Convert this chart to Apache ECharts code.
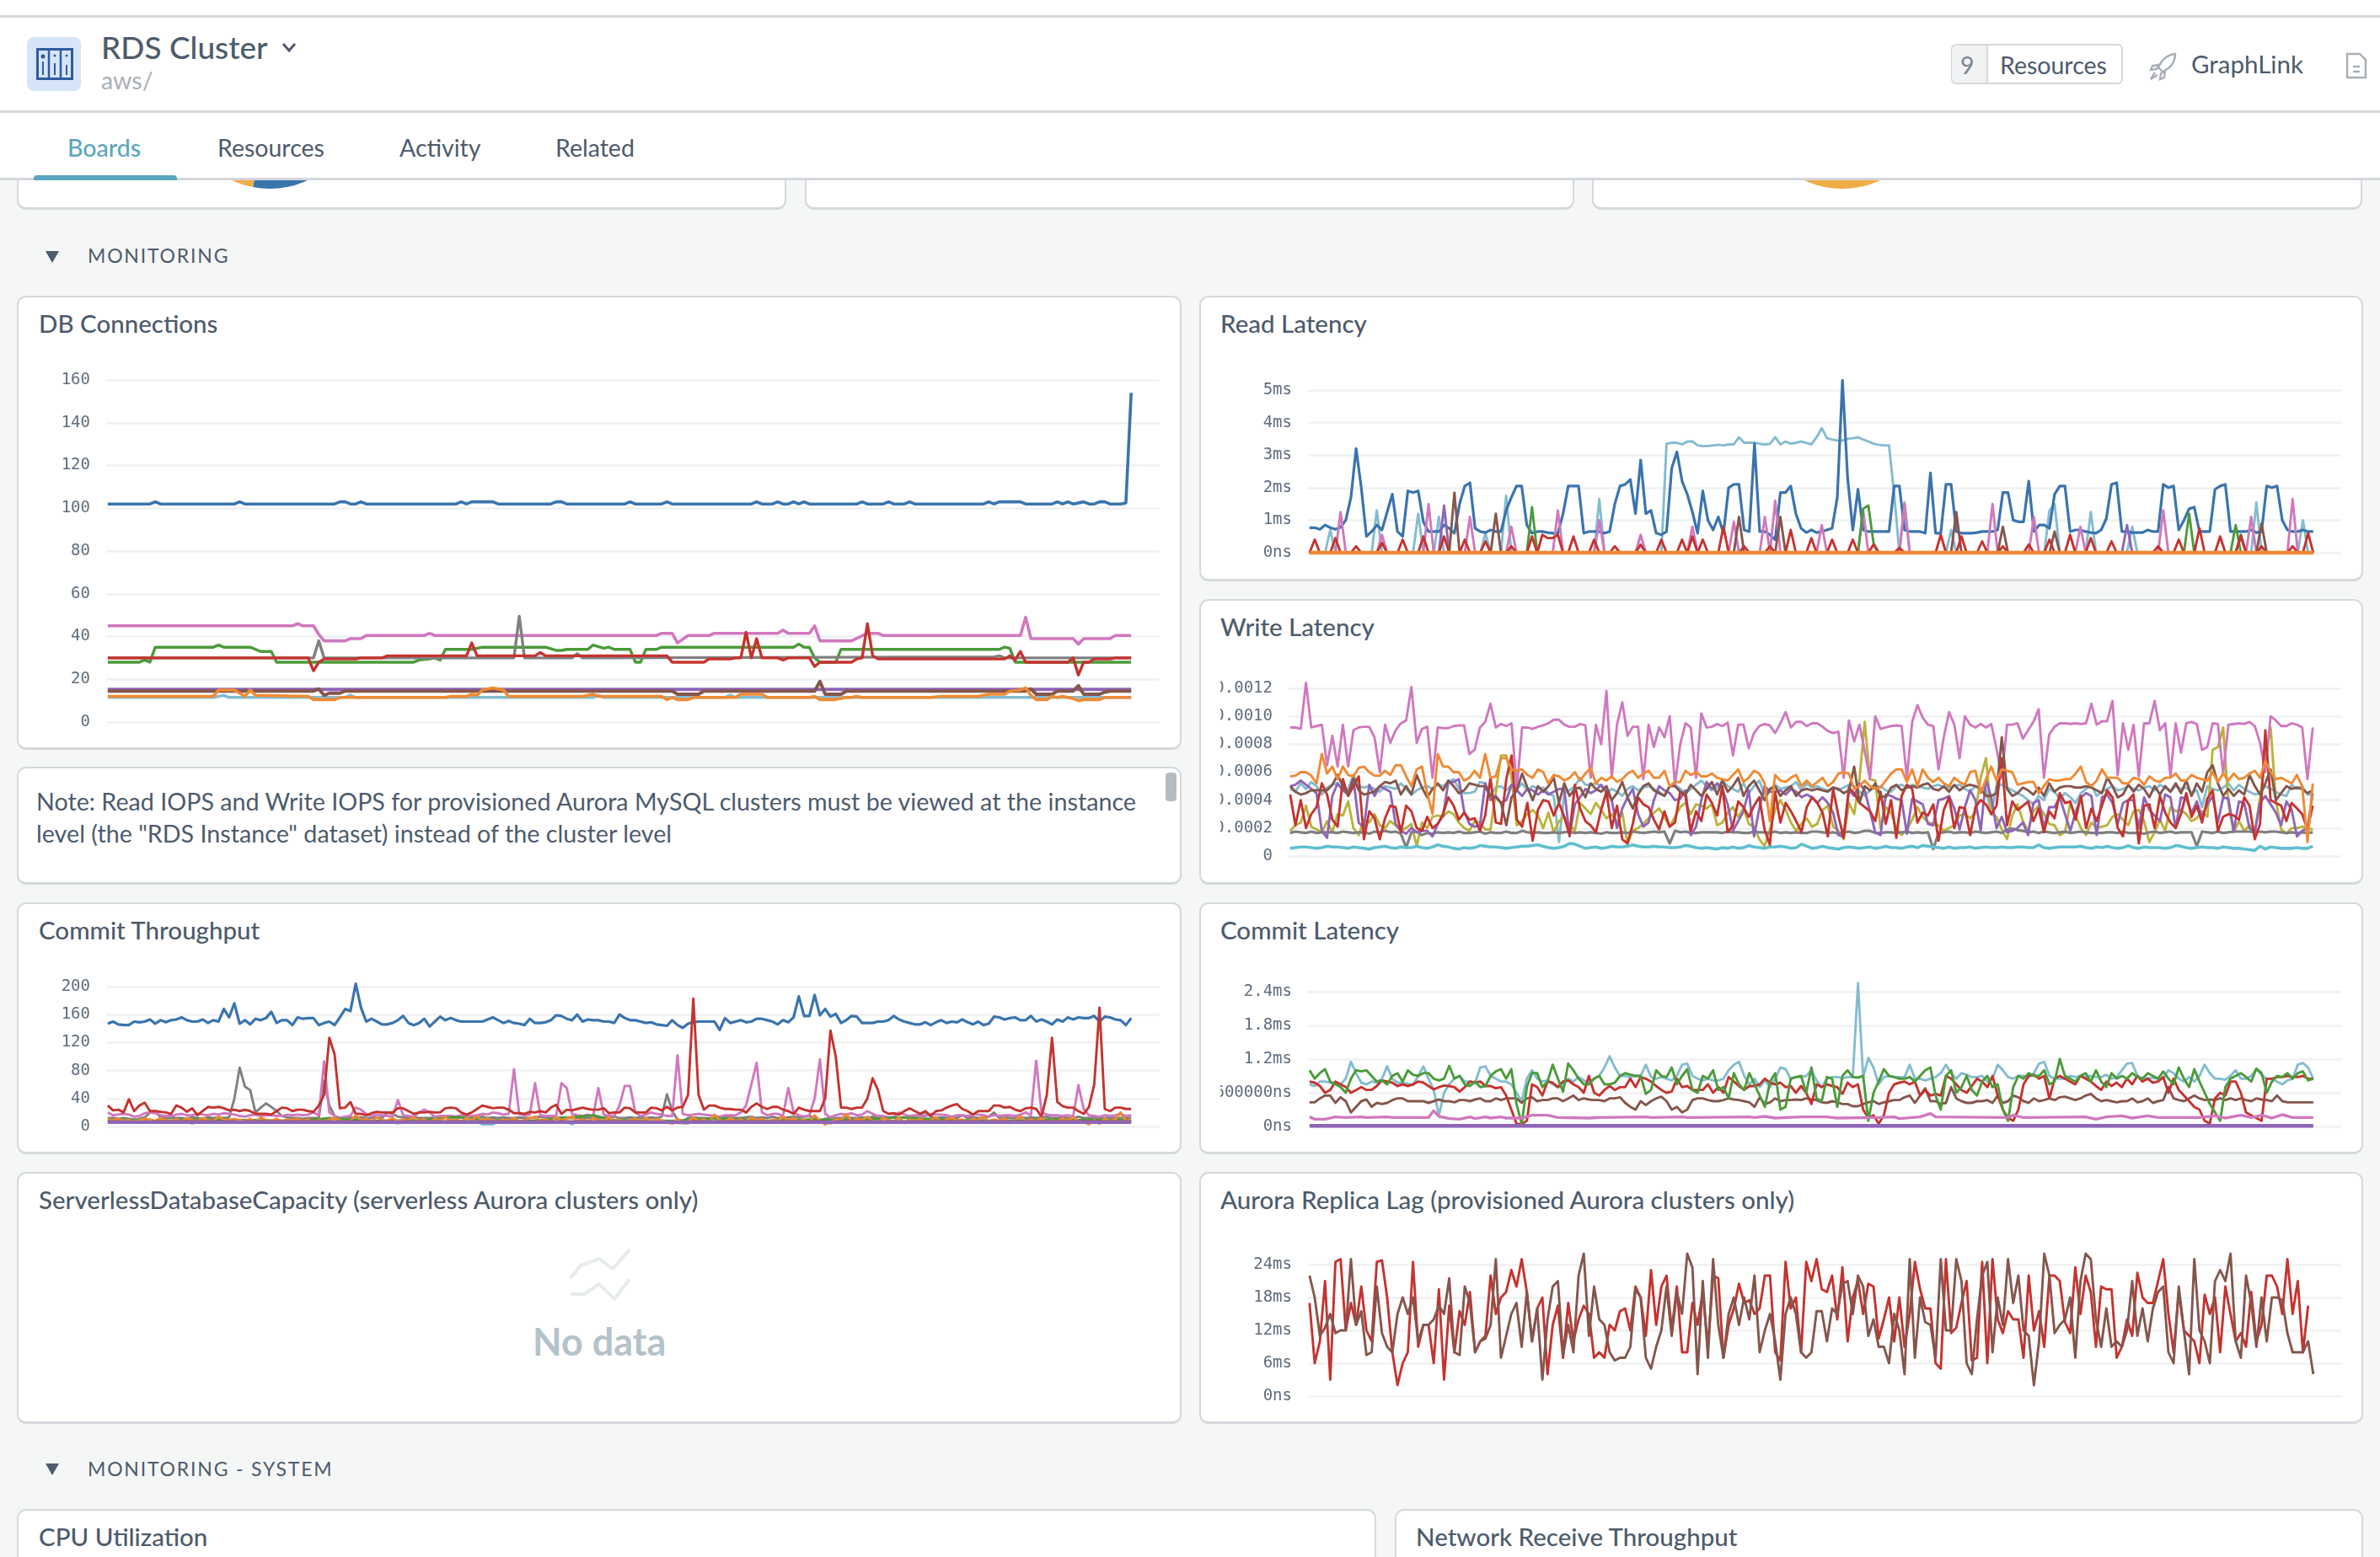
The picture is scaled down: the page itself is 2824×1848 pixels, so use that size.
<!DOCTYPE html>
<html>
<head>
<meta charset="utf-8">
<title>RDS Cluster</title>
<script src="https://cdn.jsdelivr.net/npm/echarts@6/dist/echarts.min.js"></script>
<style>
html,body{margin:0;padding:0;background:#f5f7f7;width:2824px;height:1848px;overflow:hidden;font-family:Lato,"Noto Sans",sans-serif;color:#4d5b6c}
div,span{position:absolute;white-space:nowrap}
.card{background:#fff;border:2px solid #d5d8dc;border-bottom-width:3px;border-radius:11px;box-sizing:border-box}
.title{font-size:29.5px;font-weight:500;line-height:34px;color:#4d5b6c}
.sect{font-size:23px;letter-spacing:1.8px;line-height:30px;color:#4d5b6c}
.tri{width:0;height:0;border-left:8px solid transparent;border-right:8px solid transparent;border-top:14px solid #4d5b6c}
.tab{font-size:28.5px;line-height:34px;top:158px;color:#4d5b6c}
.bar{background:#fff;left:0;width:2824px}
.line{background:#d3d6db;left:0;width:2824px;height:3px}
</style>
</head>
<body>
<div class="card" style="left:20px;top:-40px;width:913px;height:289px"></div>
<div class="card" style="left:955px;top:-40px;width:913px;height:289px"></div>
<div class="card" style="left:1889px;top:-40px;width:914px;height:289px"></div>
<div id="pieLeft" style="left:150px;top:0;width:340px;height:230px"></div>
<div id="pieRight" style="left:2016px;top:0;width:340px;height:230px"></div>

<div class="bar" style="top:0;height:213px"></div>
<div class="line" style="top:18px"></div>
<div class="line" style="top:131px"></div>
<div class="line" style="top:211px"></div>

<div style="left:32px;top:44px;width:64px;height:64px;border-radius:8px;background:#d6e5f8"></div>
<svg style="position:absolute;left:43px;top:57px" width="44" height="38" viewBox="0 0 44 38">
  <rect x="1.5" y="1.5" width="41" height="35" fill="none" stroke="#2f5c9e" stroke-width="3"/>
  <path d="M15 2V36M29 2V36" stroke="#2f5c9e" stroke-width="2.5"/>
  <path d="M8 16V32M22 18V32M36 20V32" stroke="#2f5c9e" stroke-width="2"/>
  <circle cx="8" cy="10" r="2.5" fill="#2f5c9e"/><circle cx="22" cy="9" r="1.5" fill="#2f5c9e"/><circle cx="36" cy="9" r="1.5" fill="#2f5c9e"/>
</svg>
<span style="left:120px;top:34px;font-size:37px;line-height:44px;font-weight:500;color:#4d5b6c">RDS Cluster</span>
<svg style="position:absolute;left:333px;top:49px" width="20" height="14" viewBox="0 0 20 14"><path d="M3 3L10 11L17 3" fill="none" stroke="#4d5b6c" stroke-width="3"/></svg>
<span style="left:120px;top:79px;font-size:28.5px;line-height:32px;color:#a9afb9">aws/</span>

<span class="tab" style="left:80px;color:#5ca5bf;font-weight:500">Boards</span>
<span class="tab" style="left:258px">Resources</span>
<span class="tab" style="left:474px">Activity</span>
<span class="tab" style="left:659px">Related</span>
<div style="left:40px;top:208px;width:170px;height:6px;background:#5ca5bf;border-radius:4px 4px 0 0"></div>

<div style="left:2315px;top:52px;width:204px;height:48px;border:2px solid #d5d8dc;border-radius:6px;box-sizing:border-box;background:#fff"></div>
<div style="left:2316px;top:54px;width:41px;height:44px;background:#f1f2f4;border-right:2px solid #d5d8dc;border-radius:5px 0 0 5px"></div>
<span style="left:2326px;top:60px;font-size:28.5px;line-height:34px;color:#7b8591">9</span>
<span style="left:2373px;top:60px;font-size:28.5px;line-height:34px">Resources</span>
<svg style="position:absolute;left:2550px;top:62px" width="34" height="34" viewBox="0 0 34 34"><path d="M31 2C22 3 15 9 11 18L16 23C25 19 31 12 31 2ZM11 15L4 16L2 21L9 20ZM19 23L18 30L13 32L14 25ZM7 24L2 32L10 27" fill="none" stroke="#a9afb9" stroke-width="2.4"/></svg>
<span style="left:2600px;top:59px;font-size:29.5px;line-height:34px">GraphLink</span>
<svg style="position:absolute;left:2783px;top:62px" width="26" height="32" viewBox="0 0 26 32"><path d="M2 2H17L24 9V30H2ZM9 17H17M9 23H17" fill="none" stroke="#a9afb9" stroke-width="2.4"/></svg>

<div class="tri" style="left:54px;top:298px"></div>
<span class="sect" style="left:104px;top:288px">MONITORING</span>

<div class="card" style="left:20px;top:351px;width:1382px;height:539px"></div>
<span class="title" style="left:46px;top:367px">DB Connections</span>
<div class="card" style="left:1423px;top:351px;width:1381px;height:339px"></div>
<span class="title" style="left:1448px;top:367px">Read Latency</span>
<div class="card" style="left:1423px;top:711px;width:1381px;height:339px"></div>
<span class="title" style="left:1448px;top:727px">Write Latency</span>

<div class="card" style="left:20px;top:910px;width:1382px;height:140px"></div>
<span style="left:43px;top:932px;font-size:28.7px;line-height:38px;color:#4d5b6c">Note: Read IOPS and Write IOPS for provisioned Aurora MySQL clusters must be viewed at the instance<br>level (the "RDS Instance" dataset) instead of the cluster level</span>
<div style="left:1383px;top:917px;width:13px;height:34px;border-radius:4px;background:#b4bbc3"></div>

<div class="card" style="left:20px;top:1071px;width:1382px;height:299px"></div>
<span class="title" style="left:46px;top:1087px">Commit Throughput</span>
<div class="card" style="left:1423px;top:1071px;width:1381px;height:299px"></div>
<span class="title" style="left:1448px;top:1087px">Commit Latency</span>

<div class="card" style="left:20px;top:1391px;width:1382px;height:299px"></div>
<span class="title" style="left:46px;top:1407px">ServerlessDatabaseCapacity (serverless Aurora clusters only)</span>
<svg style="position:absolute;left:675px;top:1482px" width="74" height="62" viewBox="0 0 74 62"><path d="M2 35L14 20L36 12L52 24L72 1M2 54L18 54L36 42L54 60L72 36" fill="none" stroke="#e6ebec" stroke-width="4"/></svg>
<span style="left:632px;top:1564px;font-size:45px;line-height:56px;font-weight:700;color:#b3c3c9">No data</span>
<div class="card" style="left:1423px;top:1391px;width:1381px;height:299px"></div>
<span class="title" style="left:1448px;top:1407px">Aurora Replica Lag (provisioned Aurora clusters only)</span>

<div class="tri" style="left:54px;top:1737px"></div>
<span class="sect" style="left:104px;top:1728px">MONITORING - SYSTEM</span>
<div class="card" style="left:20px;top:1791px;width:1613px;height:120px"></div>
<span class="title" style="left:46px;top:1807px">CPU Utilization</span>
<div class="card" style="left:1655px;top:1791px;width:1149px;height:120px"></div>
<span class="title" style="left:1680px;top:1807px">Network Receive Throughput</span>

<script>
// colours of the instances, same order on all boards
var blue='#3a74ad',teal='#84bccf',pink='#d078be',green='#4b9b3a',gray='#808080',
    purple='#8f65b8',brown='#85564c',olive='#bab33b',cyan='#5fbfd0',red='#c5332f',orange='#ef8a33';

var pieLeftValues=[53,47];
var pieRightValues=[100];

var dbTicks=['0','20','40','60','80','100','120','140','160'];
var readTicks=['0ns','1ms','2ms','3ms','4ms','5ms'];
var writeTicks=['0','0.0002','0.0004','0.0006','0.0008','0.0010','0.0012'];
var commitTicks=['0','40','80','120','160','200'];
var commitLatTicks=['0ns','600000ns','1.2ms','1.8ms','2.4ms'];
var lagTicks=['0ns','6ms','12ms','18ms','24ms'];

// DB Connections, [sample, connections] at each change of value
var dbBlue=[[0,102],[8,102],[9,103],[10,102],[24,102],[25,103],[26,102],[43,102],[44,103],[45,103],[46,102],[47,102],[48,103],[49,102],[66,102],[67,103],[68,102],[69,103],[73,103],[74,102],[84,102],[85,103],[86,103],[87,102],[98,102],[99,103],[100,102],[105,102],[106,103],[107,102],[122,102],[123,103],[124,102],[126,102],[127,103],[128,102],[129,102],[130,103],[131,102],[132,103],[133,102],[142,102],[143,103],[144,102],[147,102],[148,103],[149,102],[151,102],[152,103],[153,102],[166,102],[167,103],[168,102],[169,103],[173,103],[174,102],[179,102],[180,103],[181,102],[182,103],[183,102],[185,103],[186,102],[187,102],[188,103],[189,103],[190,102],[192,102],[193,102.5],[194,154]];
var dbTeal=[[0,11.5],[20,11.5],[22,12.5],[23,11.5],[45,11.5],[46,12.5],[47,11.5],[92,11.5],[93,12.5],[94,11.5],[117,11.5],[118,12.5],[119,11.5],[194,11.5]];
var dbPink=[[0,45],[35,45],[36,46],[37,45],[39,45],[40,41],[41,38],[45,38],[46,39],[48,39],[49,40.5],[60,40.5],[61,41.5],[62,40.5],[104,40.5],[105,41.5],[107,41.5],[108,37],[110,40.5],[114,40.5],[115,41.5],[127,41.5],[128,43],[129,41.5],[133,41.5],[134,45],[135,38],[141,38],[144,41.5],[146,41.5],[147,40.5],[173,40.5],[174,49],[175,39],[183,39],[184,36.5],[185,39],[190,39],[191,40.5],[194,40.5]];
var dbGreen=[[0,28],[6,28],[7,29],[8,28],[9,35],[20,35],[21,36],[22,35],[27,35],[29,33],[31,33],[32,28],[58,28],[59,29],[61,29.5],[62,30],[63,29],[64,34],[69,34],[71,35],[83,35],[85,33.5],[86,33.5],[87,34],[91,34],[92,36],[94,34.5],[95,35],[96,34],[99,34],[100,28],[101,28],[102,34],[104,34],[105,35],[130,35],[131,36.5],[132,35],[133,35],[134,30],[135,28],[138,28],[139,34],[169,34],[170,35],[171,34.5],[172,28],[194,28]];
var dbGray=[[0,30],[39,30],[40,38],[41,30],[77,30],[78,49.5],[79,30],[88,30],[89,32],[90,30],[168,30.5],[169,31],[170,30],[194,30]];
var dbPurple=[[0,15.3],[194,15.3]];
var dbBrown=[[0,14.5],[39,14.5],[40,15.5],[41,12.5],[42,13.5],[44,13.5],[45,14.5],[107,14.5],[108,13],[112,13],[113,14.5],[134,14.5],[135,19],[136,13],[139,13],[140,14.5],[174,14.5],[175,15.5],[176,13],[179,13],[180,14.5],[183,14.5],[184,17],[185,13],[188,13],[189,14],[190,14.5],[194,14.5]];
var dbOrange=[[0,12],[20,12],[21,15],[24,15],[26,12],[27,15],[28,12.5],[38,12],[39,10.5],[43,10.5],[44,11.5],[64,11.5],[65,12],[68,12],[69,13],[70,12.5],[71,15],[73,16],[75,15],[76,12],[90,12],[92,13],[93,12],[105,12],[106,10.5],[107,11.5],[108,10.5],[110,10.5],[111,11.5],[119,11.5],[120,13],[124,13],[125,11.5],[133,11.5],[134,12],[135,10.5],[138,10.5],[140,11.5],[141,11.5],[142,12],[143,11.5],[156,11.5],[158,12],[165,12],[167,13],[170,13],[171,14.5],[173,15],[174,16],[175,12.5],[176,10.5],[178,10.5],[179,12],[180,11.5],[181,12],[183,11],[184,10],[185,10.5],[188,10.5],[189,11.5],[194,11.5]];
var dbRed=[[0,30],[38,30],[39,24],[40,28],[41,29.5],[47,29.5],[48,30],[52,30],[53,31],[68,31],[69,37],[70,31],[81,31],[82,32.5],[83,31],[106,31],[107,28],[113,28],[114,29.5],[118,29.5],[119,30],[120,30],[121,42],[122,30],[123,39],[124,30],[127,30],[128,29],[129,30],[133,30],[134,26],[135,28],[141,28],[142,29.5],[143,30],[144,46],[145,31],[146,29.5],[170,29.5],[171,31],[172,29],[173,33],[174,28],[182,28],[183,30],[184,22],[185,28],[186,28],[187,29.5],[190,29.5],[191,30],[194,30]];

// Read Latency in ms, samples that leave the zero line
var readBlue=[.77,.77,.72,.85,.77,.72,.78,1.0,1.7,3.2,2.0,.5,.65,.85,.7,1.25,1.8,.65,.5,1.9,
1.85,1.9,.95,.65,.65,.65,.85,.75,.6,1.5,2.05,2.15,.75,.65,.62,.7,.65,.65,1.3,1.7,
2.05,2.05,.85,.6,.65,.65,.62,.6,.6,1.2,2.05,2.05,2.05,.6,.65,.65,.65,.6,.65,1.5,
2.05,2.1,2.25,1.2,2.85,1.2,1.3,.6,.55,.65,2.6,3.1,2.2,1.8,1.25,.6,1.9,1.0,.7,1.1,
.6,2.0,2.1,2.1,.7,.65,3.35,.65,.65,.55,.4,1.85,1.85,2.05,1.2,.75,.62,.7,.62,.65,
.7,.75,1.7,5.3,2.3,.7,1.95,.7,.65,.65,.65,.65,.65,2.05,2.05,.7,.65,.65,.65,.6,
2.45,.6,.6,2.1,2.1,.65,.6,.6,.6,.62,.65,.65,.65,.7,1.85,1.85,1.0,.95,.95,2.2,
.65,.85,.85,.75,1.8,2.05,2.05,.65,.7,.7,.65,.62,.6,.7,1.05,2.1,2.15,.65,.65,.62,
.62,.62,.7,.65,.65,2.1,2.0,2.05,.7,1.0,1.35,1.4,.65,.65,.65,1.95,2.05,2.1,.65,.65,
.65,.65,.7,.62,.65,2.05,2.0,2.05,1.0,.7,.65,.65,.7,.65,.65];
var readTeal=[[4,.7],[13,1.3],[21,1.2],[25,1.1],[34,.6],[38,1.75],[56,1.65],
[69,3.35],[70,3.38],[71,3.38],[72,3.33],[73,3.42],[74,3.42],[75,3.3],[76,3.28],[77,3.28],[78,3.3],[79,3.32],[80,3.3],[81,3.33],[82,3.33],[83,3.55],[84,3.38],[85,3.38],[86,3.38],[87,3.35],[88,3.33],[89,3.35],[90,3.55],[91,3.33],[92,3.42],[93,3.35],[94,3.38],[95,3.42],[96,3.38],[97,3.33],[98,3.55],[99,3.83],[100,3.52],[101,3.48],[102,3.45],[103,3.45],[104,3.5],[105,3.52],[106,3.55],[107,3.48],[108,3.42],[109,3.35],[110,3.32],[111,3.3],[112,3.3],[113,1.8],
[115,1.55],[124,.7],[143,1.3],[144,1.5],[151,1.25],[159,.8],[183,1.55],[192,1.0]];
var readPink=[[6,1.25],[14,.55],[23,1.5],[31,1.1],[39,.8],[48,1.3],[56,1.0],[64,.55],[74,.8],[82,.95],[88,1.1],[90,1.6],[99,.85],[107,1.3],[115,1.5],[132,1.5],[140,1.1],[149,.8],[165,1.3],[182,1.1],[190,1.65]];
var readGreen=[[43,1.4],[107,1.35],[108,1.45],[109,.3],[170,1.2],[179,.85]];
var readPurple=[[26,1.45],[158,.85]];
var readBrown=[[28,1.85],[36,1.2],[83,1.1],[91,1.1],[125,1.25],[134,.8],[144,.65],[180,.55],[184,.9]];
var readRed=[[1,.4],[5,.45],[9,.2],[14,.3],[18,.4],[22,.5],[26,.5],[30,.4],[34,.35],[39,.2],[43,.5],[45,.55],[46,.45],[47,.45],[48,.55],[51,.5],[55,.4],[59,.2],[64,.25],[68,.4],[72,.4],[74,.5],[76,.4],[80,.8],[84,.2],[89,.2],[93,.7],[97,.45],[101,.4],[105,.4],[109,.25],[114,.15],[122,.55],[126,.5],[130,.35],[134,.2],[139,.25],[143,.4],[147,.55],[151,.45],[155,.35],[164,.2],[168,.4],[172,.75],[176,.5],[180,.5],[184,.2],[190,.2],[193,.6]];
var readOrange=[[0,0],[194,0]];

// Write Latency in microseconds
var writePink=[920,920,910,1240,920,930,940,650,860,640,940,640,900,920,925,925,850,600,940,810,
900,950,970,1210,810,910,925,560,920,915,915,930,935,935,730,760,920,960,1090,920,
945,930,950,480,920,920,910,925,935,950,975,975,940,925,925,945,935,560,940,800,
1180,560,940,1100,860,925,925,550,940,780,920,850,1000,510,800,950,920,560,1020,920,
925,945,930,955,720,940,940,770,880,930,945,935,880,950,1030,920,960,960,930,950,
950,925,895,880,890,560,970,820,940,750,550,1000,910,920,930,935,930,560,960,1080,
990,940,930,620,850,1030,940,700,1000,940,920,945,920,945,770,560,940,940,950,840,
900,960,1050,560,870,925,950,950,945,950,945,950,1090,940,965,965,1110,580,950,760,
940,570,950,950,1110,900,950,570,950,740,950,960,945,760,780,950,945,590,940,945,
950,945,960,930,810,600,1000,970,930,930,950,940,920,550,920];
var writeTeal=[480,460,520,480,530,500,440,490,510,520,470,480,580,500,490,500,480,460,500,490,
480,520,480,440,470,490,500,480,510,500,530,550,480,450,450,460,530,520,440,490,
500,470,510,480,520,470,500,480,490,450,430,100,450,470,500,560,510,510,520,500,
450,480,460,430,480,500,470,490,500,480,460,430,500,510,480,450,480,510,540,500,
470,490,540,500,480,460,520,450,500,540,440,470,510,480,490,500,530,470,520,490,
500,480,470,490,470,490,510,500,460,430,470,490,500,470,460,500,510,490,510,500,
490,480,500,510,490,490,500,510,480,460,500,480,480,300,500,510,490,470,450,430,
400,370,430,400,480,460,410,450,420,380,450,480,510,430,460,480,500,470,480,500,
480,470,490,500,470,510,490,460,500,480,490,450,470,350,500,480,470,490,520,470,
510,480,460,440,450,500,480,460,440,430,510,480,500,440,440];
var writeOlive=[180,220,240,360,210,190,170,250,170,300,290,390,200,150,260,240,300,220,200,250,
220,180,200,230,70,240,200,280,290,280,320,300,240,200,180,250,240,190,190,450,
720,720,560,220,250,300,330,290,200,310,170,250,280,230,180,380,340,300,380,330,
270,300,240,310,90,180,200,230,270,310,340,280,210,280,350,380,300,370,360,340,
370,220,240,310,350,280,340,230,210,120,70,190,330,400,330,240,180,230,270,210,
230,330,360,210,180,120,380,300,550,960,550,540,200,350,310,200,150,190,260,350,
280,240,230,220,180,200,220,290,300,270,310,560,700,300,280,190,120,290,370,250,
180,320,360,300,230,220,150,170,380,290,200,150,240,200,210,220,280,300,260,220,
320,330,250,100,170,260,180,350,320,330,300,250,270,320,280,760,780,920,370,170,
250,180,220,170,420,700,920,400,190,160,200,200,210,200,190];
var writeGray=[165,175,170,165,175,165,170,170,170,165,175,170,165,170,170,160,175,170,180,170,
175,160,60,170,175,150,165,160,170,165,170,165,175,165,165,170,175,160,170,165,
165,175,165,165,180,170,165,170,165,165,170,165,170,175,165,170,165,170,165,160,
170,165,165,170,165,175,170,165,170,175,170,175,90,180,170,175,165,165,170,170,
170,170,165,175,170,170,165,165,175,170,170,165,175,165,170,165,170,165,165,175,
175,170,165,170,160,170,175,165,170,180,180,165,165,170,170,165,170,175,165,170,
165,170,50,165,170,175,165,170,170,165,175,170,165,170,175,165,190,195,185,180,
170,175,165,175,170,165,170,175,165,170,175,170,165,165,165,170,170,165,175,165,
165,165,160,170,175,165,170,175,165,170,170,170,70,175,170,165,175,165,170,175,
175,175,175,170,175,170,175,175,170,165,170,165,170,165,170];
var writeCyan=[55,60,65,65,60,55,60,70,65,65,60,55,65,60,55,50,60,65,70,60,
55,65,60,60,70,60,55,65,80,70,65,55,50,60,55,60,75,70,65,65,
60,55,60,65,70,70,75,80,70,60,55,60,70,90,85,70,55,60,65,55,
60,70,65,65,70,80,70,65,65,70,65,65,60,60,65,75,70,60,55,60,
55,50,60,55,65,55,60,75,65,60,55,65,65,70,65,55,60,85,70,55,
60,70,60,55,50,60,65,60,55,60,65,55,60,70,60,60,55,65,70,60,
75,70,65,60,55,65,55,60,60,65,55,60,65,60,60,65,60,60,65,65,
60,60,80,60,55,60,65,65,65,65,70,60,55,65,60,70,60,55,60,75,
60,55,65,60,60,60,55,60,75,70,60,55,60,65,60,60,55,65,60,55,
55,50,45,40,70,50,65,60,55,55,55,60,55,55,70];
var writePurple=[500,510,540,510,480,450,180,130,430,520,470,440,550,240,200,510,430,500,480,460,
230,180,160,200,170,180,180,140,230,290,530,530,550,320,230,210,220,520,400,430,
380,400,510,470,430,480,470,440,470,440,460,480,480,140,370,420,480,450,470,510,
460,400,200,340,420,480,300,210,240,400,500,470,450,400,410,470,150,210,400,530,
480,520,480,370,180,250,320,470,140,340,500,460,460,470,440,480,460,420,440,420,
380,420,380,310,150,140,470,430,520,470,320,170,150,440,430,410,400,160,410,390,
370,230,220,400,410,430,340,190,350,470,400,180,550,420,200,280,170,180,200,240,
150,380,400,200,350,350,420,300,180,310,420,450,430,150,420,440,380,230,380,400,
400,200,420,330,290,250,440,420,200,420,410,310,390,280,370,430,240,420,410,180,
390,380,200,170,380,430,370,310,220,390,330,140,180,200,450];
var writeRed=[440,220,400,200,300,350,520,440,260,210,550,430,500,570,120,320,270,120,270,360,
350,170,360,320,200,180,280,200,230,300,420,360,260,310,260,270,180,290,560,240,
230,550,720,260,210,380,110,330,400,390,290,380,280,150,510,340,250,220,170,330,
460,200,360,120,90,230,420,370,350,260,190,320,210,240,460,430,180,320,250,440,
380,290,500,170,220,390,350,280,360,420,190,80,460,240,380,320,250,170,350,420,
380,310,140,480,290,130,490,450,380,350,320,250,460,230,400,130,430,510,480,240,
310,290,370,110,330,420,200,350,340,150,350,400,370,300,360,700,220,390,330,360,
390,250,340,170,320,270,450,380,390,260,430,200,340,250,360,470,420,200,140,400,
440,90,360,370,200,430,310,240,200,300,450,280,360,240,410,470,180,280,300,290,
260,420,360,120,230,900,400,380,360,250,380,340,300,190,360];
var writeBrown=[500,460,440,450,470,470,470,470,510,580,500,440,560,470,440,450,460,500,530,520,
540,440,500,440,580,490,420,480,520,470,540,500,450,470,520,510,500,500,430,420,
380,220,420,470,590,490,400,500,460,500,560,380,520,430,480,490,420,520,480,460,
500,400,450,530,420,340,440,500,520,470,450,430,500,500,460,440,510,470,430,480,
530,440,540,460,500,560,430,500,540,470,400,480,500,430,470,500,430,470,480,470,
480,470,460,490,480,450,470,640,380,500,470,520,430,420,490,510,470,490,500,490,
510,520,480,470,500,460,510,470,500,510,500,480,430,430,450,850,480,430,450,490,
470,440,490,430,520,460,490,500,500,490,490,500,490,470,450,560,500,420,440,510,
460,510,480,420,500,440,500,460,520,450,540,430,520,460,600,650,520,430,480,430,
470,440,580,500,440,520,620,400,450,500,480,490,480,450,470];
var writeOrange=[570,575,600,600,575,520,730,590,640,550,640,580,570,630,640,600,575,575,610,580,
650,650,570,500,620,640,450,300,730,640,640,600,600,540,560,610,560,730,560,570,
700,700,620,610,620,580,560,620,600,520,580,570,540,560,600,540,590,630,520,560,
540,570,530,550,590,610,560,590,610,560,560,610,500,530,530,610,580,600,570,570,
590,560,550,540,580,620,530,560,610,590,520,250,580,540,530,560,580,500,540,500,
530,560,500,530,590,600,590,480,500,540,500,480,490,540,590,620,620,530,620,500,
620,560,530,560,520,500,560,530,510,600,610,450,550,640,540,620,610,600,510,520,
530,530,450,500,550,540,540,550,550,590,640,530,500,540,620,560,560,560,520,520,
560,550,510,570,540,530,560,560,590,540,540,580,560,550,540,600,530,590,540,590,
550,560,590,610,560,680,600,550,560,540,520,580,500,100,520];

// Commit Throughput
var commitBlue=[147,150,146,145,145,150,149,150,153,147,152,149,152,153,156,152,150,150,153,148,
152,150,168,156,176,147,152,146,154,152,155,164,148,152,152,145,156,154,155,155,
145,148,150,145,156,168,165,204,170,150,154,150,146,146,148,152,158,148,145,148,
154,143,150,157,152,155,152,150,150,150,150,150,153,156,152,148,151,148,147,145,
154,148,148,149,152,159,158,154,152,160,150,153,152,152,150,150,148,160,155,152,
152,150,148,149,146,145,144,152,145,141,147,149,150,150,150,150,138,155,148,150,
152,149,150,154,154,152,150,146,152,149,156,186,158,158,188,159,168,157,161,148,
152,158,157,148,148,148,150,150,152,158,153,150,148,146,146,149,145,149,152,148,
150,149,153,149,146,150,145,147,157,156,153,155,156,152,152,158,150,153,150,146,
153,150,156,153,156,155,155,158,150,157,156,153,152,145,155];
var commitPink=[20,16,17,18,17,14,15,19,20,19,16,15,15,17,18,16,16,18,17,16,
18,17,19,18,17,15,14,16,17,15,16,16,15,15,17,16,17,16,17,20,
16,93,20,15,12,14,15,27,24,18,15,17,16,15,14,38,16,15,14,20,
24,20,14,15,15,15,14,16,16,15,16,18,17,20,19,17,18,82,18,16,
17,62,16,15,15,15,62,55,18,16,15,17,14,55,17,15,15,30,58,58,
20,15,17,20,18,17,15,15,102,18,16,17,18,17,16,15,14,16,16,16,
20,30,60,91,20,16,18,18,15,55,20,16,14,16,40,96,18,13,16,18,
17,19,16,17,22,18,15,15,13,14,20,17,15,16,15,15,18,17,17,16,
14,16,16,15,17,17,16,14,16,15,16,16,15,17,20,16,94,20,17,16,
16,15,16,14,59,25,16,15,14,16,15,16,18,15,16];
var commitGray=[12,12,11,12,11,10,11,13,20,22,13,12,13,12,12,11,13,12,11,13,
12,13,12,13,40,84,57,52,20,27,33,28,22,15,13,12,12,11,12,12,
12,65,30,15,12,14,12,13,13,12,12,13,12,20,18,14,13,12,14,12,
12,12,13,12,13,12,12,13,12,12,13,14,12,13,12,13,12,12,13,12,
12,13,14,13,12,12,13,12,12,13,12,12,13,12,12,13,14,12,12,13,
12,13,12,13,12,14,46,22,10,8,12,13,12,12,11,12,12,14,13,12,
12,13,14,12,13,12,14,12,12,13,14,13,14,15,12,8,11,12,12,12,
13,12,12,13,12,14,13,12,12,14,12,13,12,14,18,20,14,12,13,12,
14,12,16,12,13,12,12,14,20,12,13,12,12,13,12,13,12,13,14,12,
12,13,12,12,14,12,12,13,12,12,13,12,12,13,12];
var commitRed=[30,23,24,20,39,22,30,34,22,22,21,20,18,30,27,21,26,16,22,28,
27,28,26,23,24,22,24,22,18,18,18,17,22,27,26,22,24,24,22,21,
30,45,127,103,26,27,35,18,18,16,19,21,20,20,20,26,26,22,18,20,
20,21,20,20,26,27,26,20,17,20,25,30,28,26,27,27,24,19,19,18,
21,20,22,20,27,31,18,24,23,25,27,25,24,24,26,19,20,20,27,26,
20,20,20,27,26,23,28,23,27,28,45,183,45,24,30,30,27,25,25,24,
24,20,28,33,28,25,28,28,24,22,18,27,24,22,22,22,40,137,100,27,
27,25,27,27,40,69,52,22,18,19,17,22,26,22,18,22,15,22,23,27,
30,32,25,22,17,22,22,22,30,30,27,28,24,22,26,27,25,14,45,127,
35,29,27,27,22,18,28,60,170,25,22,27,27,25,25];
var commitOrange=[10,9,11,8,9,7,9,11,10,8,12,9,8,10,7,12,9,8,12,9,
8,14,10,9,11,9,8,11,6,13,9,8,11,7,10,9,11,8,10,6,
9,7,10,12,9,6,8,16,9,11,7,13,9,8,12,7,10,9,13,8,
10,6,11,9,13,8,10,7,12,9,15,8,11,9,7,10,8,12,7,9,
12,14,8,10,7,13,9,11,14,8,10,7,12,9,8,13,7,10,6,9,
11,7,12,8,10,9,6,4,11,5,7,13,8,10,6,17,9,7,12,8,
10,7,13,9,11,6,10,8,14,9,12,7,10,6,16,8,3,6,10,9,
18,7,11,9,14,8,6,12,9,7,13,5,10,8,11,7,9,13,6,10,
12,8,10,6,11,9,14,7,10,8,12,5,9,15,7,10,8,12,6,9,
7,11,9,13,8,6,3,9,4,11,8,10,20,8,10];
var commitGreen=[[0,9],[9,8],[18,10],[27,9],[37,8],[42,12],[50,8],[60,9],[66,14],[72,9],[80,8],[92,16],[96,9],[108,8],[115,12],[124,8],[133,10],[141,9],[150,13],[160,9],[170,8],[178,10],[186,9],[194,9]];
var commitTeal=[[0,7],[15,7],[16,4],[17,7],[70,7],[71,3],[73,3],[74,7],[87,7],[88,3],[89,7],[114,7],[115,12],[116,7],[194,7]];
var commitPurple=[[0,6],[194,6]];
var commitBrown=[[0,7],[8,6],[9,7],[24,7],[25,6],[26,7],[54,7],[55,5],[56,7],[100,7],[110,5],[111,7],[136,7],[137,5],[138,7],[194,7]];

// Commit Latency in ms
var latTeal=[.75,.72,.8,.8,.78,.76,.75,.85,1.15,.95,.78,.75,.8,.78,.85,1.07,.85,.78,.78,.76,
.74,.9,1.07,.85,.65,.2,.6,.75,.85,.9,.8,.8,.78,1.05,1.07,.9,.85,.8,.8,.75,
.6,.45,.85,1.0,.85,.8,.82,.75,.7,.72,.85,.8,.88,.82,.78,.85,.9,1.05,1.25,1.05,
.9,.9,.88,.9,.9,1.1,.88,.85,.88,.85,.82,.9,1.1,1.12,.9,.85,.82,.85,.82,.82,
.85,1.0,1.1,1.15,.9,.75,.85,.7,.82,.7,.85,1.05,1.02,.85,.88,.88,.9,1.0,.82,.7,
.85,.88,.88,.86,.88,.88,2.55,.88,1.22,1.05,.75,.88,.9,.88,.88,.88,1.1,.85,.85,.82,
.85,.88,.95,1.1,.95,.85,.95,.92,.88,.88,.9,.8,.85,1.1,1.0,.88,.85,.9,.9,.88,
.95,1.12,1.15,.9,.85,.85,.85,.9,.88,.9,.88,.9,.88,.88,.92,.85,.88,1.0,1.12,1.13,
.9,.85,.86,.86,.85,.85,1.0,.95,.85,.8,.88,.8,.9,1.1,.95,.85,.85,.83,.9,1.0,
.85,.85,.9,1.02,.92,.85,.85,.8,.75,.82,.85,1.1,1.13,1.05,.85];
var latGreen=[1.0,.85,.95,1.02,.8,.75,.7,.6,.85,1.0,.98,1.0,.9,.8,.82,.75,.9,.95,.8,1.0,
.92,.9,.95,.95,.85,.82,.85,1.08,.85,.9,.75,.72,.8,.7,.72,.9,.98,1.02,.85,1.02,
.4,.05,.7,.95,.95,.7,.8,1.1,.85,.62,1.12,1.0,.85,.75,.75,.85,.9,.75,.75,.78,
.9,.95,.92,.9,.9,.58,.65,1.0,.9,.88,1.05,.75,.9,1.02,.65,.6,.9,.85,1.0,.65,
.7,.5,.95,.75,.65,.95,.75,.55,.35,.8,.95,.3,.35,.85,.88,.9,.6,1.05,.5,.45,
.88,.85,.35,.9,1.0,.88,.87,.9,.1,.6,.8,1.02,.9,.88,.85,.85,.88,.8,.9,1.0,
1.05,.55,.3,.9,1.0,.6,.7,.9,.65,.55,.8,.9,.7,.75,.3,.1,.7,.9,.85,.95,
.9,.9,1.0,.75,.8,1.2,.9,.85,.8,.9,.95,.8,1.0,.8,.7,.95,.85,.9,.85,.95,
.88,.85,.95,.9,.85,.98,.85,.75,1.05,.85,.7,1.02,.8,.6,.4,.25,.1,.7,.85,.9,
.95,.88,.8,1.03,.95,.6,.8,.9,.88,.95,.85,.95,.98,.82,.85];
var latRed=[.8,.78,.72,.6,.65,.8,.75,.7,.6,.65,.7,.65,.65,.72,.82,.8,.78,.72,.75,.72,
.75,.8,.78,.72,.66,.7,.73,.72,.7,.62,.7,.8,.78,.8,.72,.72,.68,.7,.55,.3,
.05,.04,.1,.75,.7,.55,.8,.78,.7,.8,.82,.75,.7,.6,.9,.6,.55,.65,.72,.65,
.7,.7,.85,.7,.88,.85,.8,.72,.65,.6,.62,.85,.7,.72,.65,.65,.65,.75,.6,.7,
.6,.88,.8,.72,.65,.72,.72,.75,.85,.78,.75,.78,.7,.72,.6,.72,.6,.4,.75,.7,
.75,.72,.7,.58,.78,.7,.75,.3,.15,.2,.05,.2,.6,.75,.78,.8,.75,.8,.55,.65,
.55,.58,.55,.9,.85,.75,.65,.6,.72,.85,.8,.7,.9,.55,.3,.15,.1,.3,.75,.9,
.92,.85,.9,.5,.85,.9,.85,.8,.75,.9,.85,.8,.72,.65,.8,.72,.78,.7,.85,.75,
.9,.8,.85,.78,.8,.88,.6,.85,.65,.55,.45,.35,.3,.1,.05,.5,.6,.55,.8,.8,
.6,.25,.2,.15,.1,.85,.85,.88,.88,.9,.88,.88,.9,.85,.85];
var latBrown=[.43,.43,.5,.55,.55,.42,.52,.45,.25,.35,.45,.48,.35,.42,.4,.42,.47,.5,.5,.45,
.45,.45,.45,.42,.45,.48,.45,.45,.43,.47,.47,.45,.48,.5,.45,.45,.5,.47,.5,.5,
.5,.42,.5,.52,.45,.47,.47,.5,.5,.45,.5,.55,.47,.5,.48,.47,.47,.45,.5,.5,
.52,.42,.35,.3,.45,.38,.45,.5,.53,.45,.3,.35,.25,.3,.47,.5,.5,.47,.45,.45,
.47,.5,.48,.47,.45,.43,.35,.52,.4,.43,.5,.45,.47,.47,.48,.47,.5,.48,.47,.43,
.42,.45,.43,.4,.4,.36,.36,.4,.43,.45,.4,.43,.45,.47,.47,.52,.55,.42,.55,.68,
.45,.45,.4,.42,.7,.5,.45,.42,.42,.45,.45,.47,.42,.55,.42,.45,.55,.52,.45,.42,
.5,.45,.47,.5,.47,.52,.53,.5,.47,.5,.55,.58,.5,.45,.47,.45,.43,.45,.45,.5,
.43,.45,.5,.42,.45,.47,.7,.5,.47,.45,.5,.55,.5,.47,.48,.47,.5,.47,.5,.47,
.5,.47,.45,.5,.48,.47,.45,.55,.45,.43,.43,.43,.43,.43,.43];
var latPink=[[0,.17],[1,.13],[3,.13],[5,.17],[7,.16],[10,.17],[11,.16],[15,.17],[16,.16],[23,.16],[24,.28],[25,.18],[27,.14],[29,.13],[31,.17],[32,.14],[34,.17],[35,.15],[37,.17],[38,.15],[41,.15],[43,.2],[46,.2],[48,.16],[54,.15],[56,.16],[65,.17],[66,.16],[72,.17],[73,.16],[85,.17],[86,.16],[88,.18],[90,.15],[95,.17],[100,.17],[102,.15],[110,.16],[113,.17],[114,.14],[118,.17],[120,.23],[121,.17],[135,.16],[136,.2],[138,.16],[150,.17],[152,.13],[154,.17],[157,.19],[159,.15],[162,.19],[164,.16],[172,.16],[175,.19],[177,.15],[180,.2],[182,.16],[184,.2],[186,.15],[188,.21],[190,.16],[194,.16]];
var latPurple=[[0,.01],[194,.01]];

// Aurora Replica Lag in ms
var lagRed=[17,6,10,21,3,24.5,25,12,17,13,20,12,10,24.5,24.8,18,8,2,6,8,
24.5,9,13,13,6,19.5,3,16.5,8,15.5,13,19,8,10,11,22,15,18,19,23,
20,25,19,10,16,18,4,13,16.5,7,17,10,14,16.5,15,7,8,7,13,12,
15.5,16,12,20,18,11,23,13,20,22,12,20,8,8,17,13,19,9,22,21.5,
7,13,16,20.5,17,17.5,15,16,22,22,8,6.5,24.5,16,18,8,24.5,21,25,19.5,
19,22,14,23.5,10,18,21,15,20.5,20,10.5,14,18,10,18,9,15,24.5,19.5,16,
16,6,5,25,11.5,12.5,17,21,6.5,7,24.5,6,25,14,11.5,15.5,14,14,7,22,
12,15.5,9,22,22,21,13.5,11.5,23.5,15,22,19,9,20,19.5,19.5,7,9,14,11,
22.5,18,17,17,21,25,15,8,19,12,11,10,6,18.5,15,18,8,20,15,10,
11.5,9,19,10,13,22,22,20,15,25,15,21,8,16.5];
var lagBrown=[22,18,11,12.5,15,11.5,12,12,25,13,15.5,7.5,8,20,11.5,9,8,15,18,15,
18,10,13,13,14,16.5,15,21.5,8,7.5,20,17,8,10,10.5,13,25,7,11,15,
17,9,19,10,16,3,14,20,21,7.5,13,8,22,26,11,20,14,13,8,6.5,
7,7,9,19.5,18,7,5,9,12,20,11,19,15,26,23.5,4,21,7,25,13,
7,15,18,13,18,14,22,8,12,15,10,3,15,18,15,8,7,8,15.5,15.5,
10,16,15,20.5,21,15,22,20,11,14,9,9,6,15,12,4,25,7,18,13.5,
13,7,25,12,12,25,21,6,4,14,22,24.5,8,18,13,25,17,22,12,11,
2,10,26,22,11.5,13,14,18,7,21,26,25,14,9,16,9,10,9,12,21,
11,16,10,16,19,20,8,6,20,12,4,25,12,10,6,21,23,21,26,10,
7,22,17,9,18,10,18,18,17.5,11.5,8,8,8,10,4];

var LAST=194;

function dense(vals){
  return vals.map(function(v,i){return [i,v];});
}
// samples listed are the only ones above the zero line
function onZero(peaks){
  var out=[];
  for(var i=0;i<=LAST;i++) out.push([i,0]);
  peaks.forEach(function(p){out[p[0]]=p;});
  return out;
}

function plot(labelLeft,gridLeft,gridRight,top,bottom,cfg){
  var pad=34;
  var el=document.createElement('div');
  el.style.left=labelLeft+'px';
  el.style.top=(top-pad)+'px';
  el.style.width=(gridRight-labelLeft+4)+'px';
  el.style.height=(bottom-top+pad+24)+'px';
  document.body.appendChild(el);
  var chart=echarts.init(el);
  var series=cfg.lines.map(function(l){
    return {type:'line',data:l[0],showSymbol:false,symbol:'none',clip:false,silent:true,
      lineStyle:{color:l[1],width:l[2]||2.9,join:'round'},itemStyle:{color:l[1]}};
  });
  chart.setOption({
    animation:false,
    grid:{left:gridLeft-labelLeft,top:pad,width:gridRight-gridLeft,height:bottom-top,outerBoundsMode:'none'},
    xAxis:{type:'value',min:-0.3,max:199.4,show:false},
    yAxis:{type:'value',min:0,max:cfg.max,interval:cfg.step,
      axisLine:{show:false},axisTick:{show:false},
      splitLine:{lineStyle:{color:'#f0f1f3',width:2.5}},
      axisLabel:{margin:19,color:'#5f6c7d',fontFamily:'DejaVu Sans Mono',fontSize:19,
        formatter:function(v){return cfg.ticks[Math.round(v/cfg.step)];}}},
    series:series
  });
}

plot(60,126,1376,451,857,{max:160,step:20,ticks:dbTicks,lines:[
  [dbTeal,teal,3.6],[dbPink,pink,3.6],[dbGreen,green,3.4],[dbGray,gray,3.4],[dbPurple,purple,4],[dbBrown,brown,4],
  [dbOrange,orange,3.6],[dbRed,red,3.4],[dbBlue,blue,3.6]]});

plot(1460,1552,2778,463,656,{max:5,step:1,ticks:readTicks,lines:[
  [onZero(readTeal),teal],[dense(readBlue),blue,3.2],[onZero(readPink),pink],[onZero(readGreen),green],
  [onZero(readPurple),purple],[onZero(readBrown),brown],[onZero(readRed),red],[onZero(readOrange),orange,4.5]]});

plot(1448,1529,2778,817,1016,{max:1200,step:200,ticks:writeTicks,lines:[
  [dense(writeTeal),teal],[dense(writeOlive),olive],[dense(writeGray),gray,3.2],[dense(writeCyan),cyan,3.6],
  [dense(writePink),pink],[dense(writePurple),purple],[dense(writeRed),red],[dense(writeBrown),brown],[dense(writeOrange),orange]]});

plot(60,126,1376,1171,1337,{max:200,step:40,ticks:commitTicks,lines:[
  [dense(commitBlue),blue,3.2],[dense(commitGray),gray],[dense(commitPink),pink],[dense(commitRed),red],
  [commitTeal,teal],[commitGreen,green],[dense(commitOrange),orange],[commitBrown,brown,3.4],[commitPurple,purple,4]]});

plot(1448,1552,2778,1177,1337,{max:2.4,step:.6,ticks:commitLatTicks,lines:[
  [dense(latTeal),teal],[dense(latBrown),brown],[dense(latRed),red],[dense(latGreen),green],[latPink,pink,3.4],[latPurple,purple,4.5]]});

plot(1460,1552,2778,1501,1657,{max:24,step:6,ticks:lagTicks,lines:[
  [dense(lagRed),red],[dense(lagBrown),brown]]});

// summary pies of the row above, only their bottoms stick out under the tab bar
function pie(id,vals,cols){
  var chart=echarts.init(document.getElementById(id));
  chart.setOption({animation:false,series:[{type:'pie',center:[170,118],radius:[0,106],startAngle:90,silent:true,
    label:{show:false},labelLine:{show:false},
    data:vals.map(function(v,i){return {value:v,itemStyle:{color:cols[i]}};})}]});
}
pie('pieLeft',pieLeftValues,['#3a74ad','#efae45']);
pie('pieRight',pieRightValues,['#efae45']);
</script>
</body>
</html>
